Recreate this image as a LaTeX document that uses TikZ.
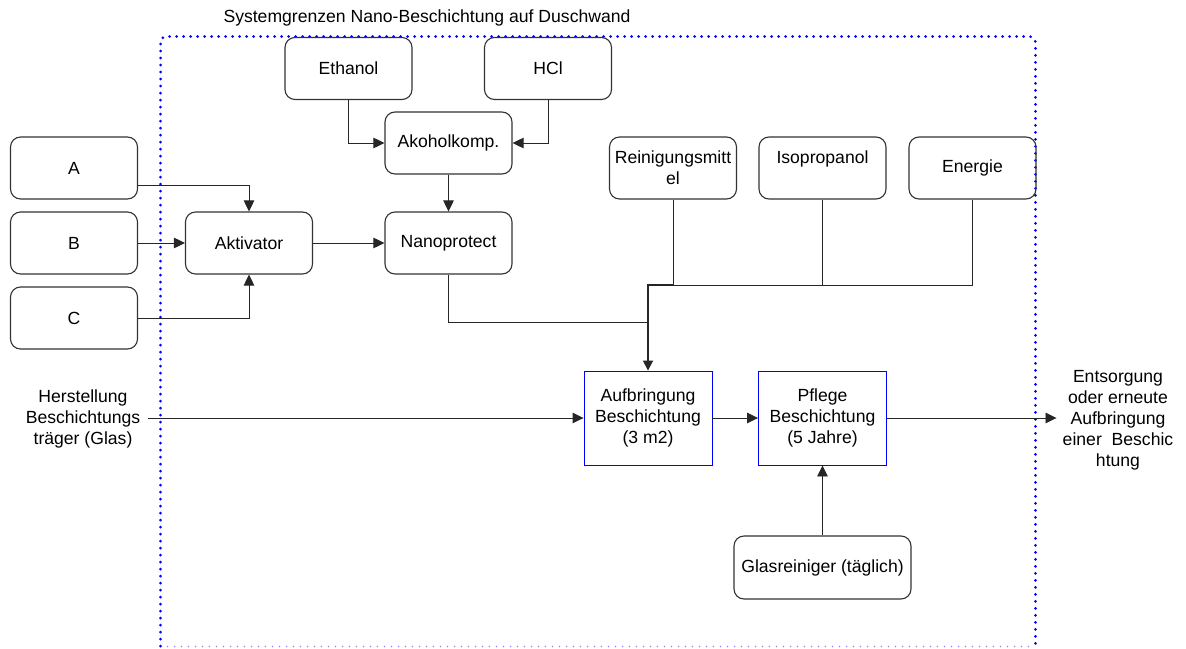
\documentclass[tikz,border=0pt]{standalone}
\usepackage{fontspec}
\setmainfont{Liberation Sans}
\usetikzlibrary{arrows.meta}
\begin{document}
\begin{tikzpicture}[x=1pt,y=-1pt,
  font=\fontsize{17.6}{21}\selectfont,
  proc/.style={draw=black!80,line width=1.1pt,rounded corners=10pt,
    minimum width=127pt,minimum height=62pt,inner sep=0pt,align=center},
  stage/.style={draw=blue,line width=0.9pt,
    minimum width=128pt,minimum height=94pt,inner sep=0pt,align=center},
  lbl/.style={align=center,inner sep=0pt},
  flow/.style={draw=black!85,line width=0.9pt},
  arr/.style={flow,-{Triangle[length=11pt,width=10.5pt]}},
  bound/.style={draw=blue,line width=3pt,line cap=round,dash pattern=on 0pt off 7pt}]
\useasboundingbox (0,0) rectangle (1186,648);

% system boundary
\draw[bound,rounded corners=6pt] (160.5,646) -- (160.5,36.5) -- (1035.5,36.5) -- (1035.5,646);
\draw[draw=blue!45,line width=1.6pt,line cap=round,dash pattern=on 0pt off 7pt] (167.5,646.5) -- (1030,646.5);
\node[lbl] (title) at (427,18) {Systemgrenzen Nano-Beschichtung auf Duschwand};

% process boxes
\node[proc] (eth) at (348.5,68.5) {Ethanol};
\node[proc] (hcl) at (548,68.5) {HCl};
\node[proc] (alk) at (448.5,143) {Akoholkomp.};
\node[proc] (nano) at (448.5,243) {Nanoprotect};
\node[proc] (a) at (74,168) {A};
\node[proc] (b) at (74,243) {B};
\node[proc] (c) at (74,318) {C};
\node[proc] (akt) at (249,243) {Aktivator};
\node[proc] (rein) at (673,168) {Reinigungsmitt\\el};
\node[proc] (iso) at (822.5,168) {Isopropanol\\\mbox{}};
\node[proc] (ener) at (972.5,168) {Energie};
\node[proc,minimum width=177pt,minimum height=63pt] (glas) at (822.5,567.5) {Glasreiniger (täglich)};
\node[stage] (aufb) at (648,418) {Aufbringung\\Beschichtung\\(3 m2)};
\node[stage] (pfl) at (822.5,418) {Pflege\\Beschichtung\\(5 Jahre)};

\node[lbl,inner xsep=8pt] (herst) at (83,419) {Herstellung\\Beschichtungs\\träger (Glas)};
\node[lbl,inner xsep=6pt] (ents) at (1118,420) {Entsorgung\\oder erneute\\Aufbringung\\einer~~Beschic\\htung};

% junction points
\coordinate (jr) at (673,285);
\coordinate (ji) at (822.5,285);
\coordinate (je) at (972.5,285);
\coordinate (jm) at (648,285);
\coordinate (jn) at (648,322);

% connectors
\draw[arr] (eth.south) |- (alk.west);
\draw[arr] (hcl.south) |- (alk.east);
\draw[arr] (alk) -- (nano);
\draw[arr] (a.east |- 0,185) -| (akt.north);
\draw[arr] (b) -- (akt);
\draw[arr] (c.east) -| (akt.south);
\draw[arr] (akt) -- (nano);
\draw[flow] (nano.south) |- (jn);
\draw[flow] (rein.south) -- (jr);
\draw[flow] (iso.south) -- (ji);
\draw[flow] (ener.south) -- (je) -- (jr);
\draw[flow,line width=1.8pt,-{Triangle[length=10pt,width=10pt]}] (jr) -- (jm) -- (aufb.north);
\draw[arr] (herst.east |- aufb.west) -- (aufb.west);
\draw[arr] (aufb) -- (pfl);
\draw[arr] (glas) -- (pfl);
\draw[arr] (pfl.east) -- (ents.west |- pfl.east);
\end{tikzpicture}
\end{document}
